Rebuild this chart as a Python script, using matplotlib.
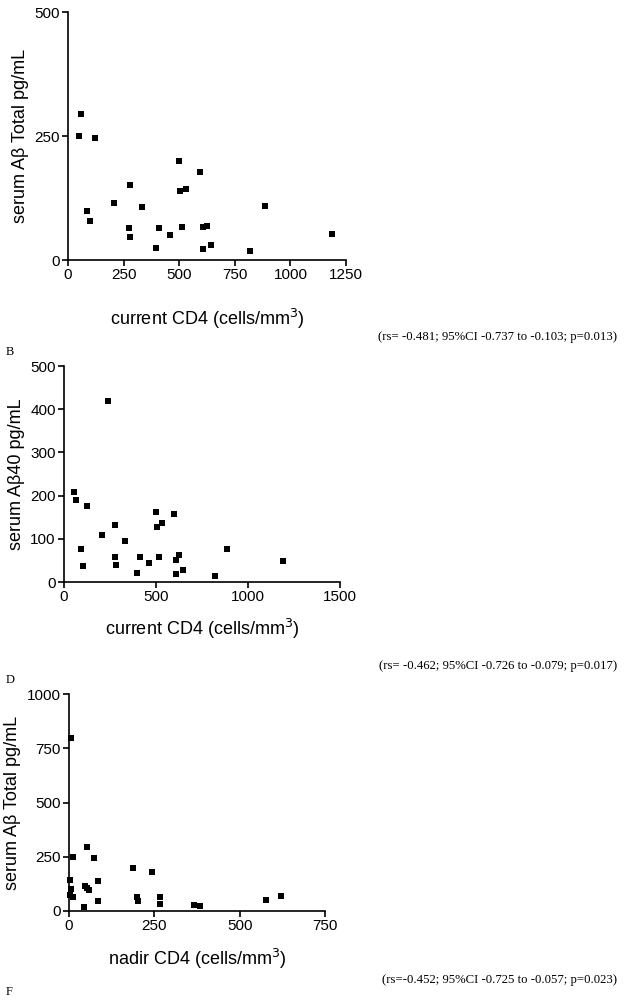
import matplotlib
matplotlib.use('Agg')
import matplotlib.pyplot as plt

# panel A: current CD4 vs serum Abeta total
cd4_a = [60, 50, 123, 87, 98, 205, 278, 274, 278, 331, 395, 408, 457, 499, 502,
         529, 514, 595, 606, 623, 606, 644, 818, 886, 1186]
abt_a = [295, 251, 245, 98, 78, 115, 152, 64, 46, 106, 25, 64, 50, 199, 140,
         144, 66, 178, 66, 69, 23, 30, 19, 109, 52]

# panel C: current CD4 vs serum Abeta40
cd4_c = [237, 54, 63, 125, 91, 103, 208, 279, 277, 281, 333, 397, 413, 460, 502,
         505, 533, 518, 596, 610, 623, 610, 647, 821, 888, 1192]
ab40_c = [420, 209, 190, 175, 76, 36, 108, 131, 59, 40, 95, 21, 59, 44, 161,
          127, 137, 58, 157, 52, 62, 18, 27, 15, 76, 48]

# panel E: nadir CD4 vs serum Abeta total
nadir_e = [7, 11, 53, 73, 2, 7, 2, 13, 46, 52, 58, 84, 85, 43, 187, 243, 200,
           202, 267, 267, 365, 385, 576, 622]
abt_e = [797, 248, 294, 243, 143, 103, 75, 65, 115, 108, 95, 137, 45, 18, 197,
         178, 65, 48, 63, 31, 26, 23, 51, 68]

stats = ["(rs= -0.481; 95%CI -0.737 to -0.103; p=0.013)",
         "(rs= -0.462; 95%CI -0.726 to -0.079; p=0.017)",
         "(rs=-0.452; 95%CI -0.725 to -0.057; p=0.023)"]
letters = ["B", "D", "F"]

W, H = 625, 1002
fig = plt.figure(figsize=(W / 100, H / 100), dpi=100)

def px_axes(l, r, t, b):
    return fig.add_axes([l / W, 1 - b / H, (r - l) / W, (b - t) / H])

panels = [
    (px_axes(68, 346, 12, 260), cd4_a, abt_a, (0, 1250), [0, 250, 500, 750, 1000, 1250],
     (0, 500), [0, 250, 500], "serum A\u03b2 Total pg/mL", "current CD4 (cells/mm$^3$)", 18),
    (px_axes(64, 340, 366, 582), cd4_c, ab40_c, (0, 1500), [0, 500, 1000, 1500],
     (0, 500), [0, 100, 200, 300, 400, 500], "serum A\u03b240 pg/mL", "current CD4 (cells/mm$^3$)", 9),
    (px_axes(69, 325, 694, 911), nadir_e, abt_e, (0, 750), [0, 250, 500, 750],
     (0, 1000), [0, 250, 500, 750, 1000], "serum A\u03b2 Total pg/mL", "nadir CD4 (cells/mm$^3$)", 10),
]

for ax, x, y, xl, xt, yl, yt, ylab, xlab, pad in panels:
    ax.scatter(x, y, marker='s', s=24, color='black', linewidths=0, clip_on=False, zorder=3)
    ax.set_xlim(*xl)
    ax.set_ylim(*yl)
    ax.set_xticks(xt)
    ax.set_yticks(yt)
    for s in ['top', 'right']:
        ax.spines[s].set_visible(False)
    for s in ['left', 'bottom']:
        ax.spines[s].set_linewidth(1.2)
    ax.tick_params(direction='out', length=4, width=1.2, labelsize=11, pad=2)
    ax.set_ylabel(ylab, fontsize=13, family='Liberation Sans', labelpad=4)
    ax.set_xlabel(xlab, fontsize=13, family='Liberation Sans', labelpad=pad)
    for lab in ax.get_xticklabels() + ax.get_yticklabels():
        lab.set_family('Liberation Sans')

stat_y = [337, 666, 980]
letter_y = [352, 680, 992]
for s, sy, lt, ly in zip(stats, stat_y, letters, letter_y):
    fig.text(617 / W, 1 - sy / H, s, ha='right', va='center', fontsize=9.2,
             family='Liberation Serif')
    fig.text(6 / W, 1 - ly / H, lt, ha='left', va='center', fontsize=9,
             family='Liberation Serif')

fig.savefig('out.png', dpi=100)
